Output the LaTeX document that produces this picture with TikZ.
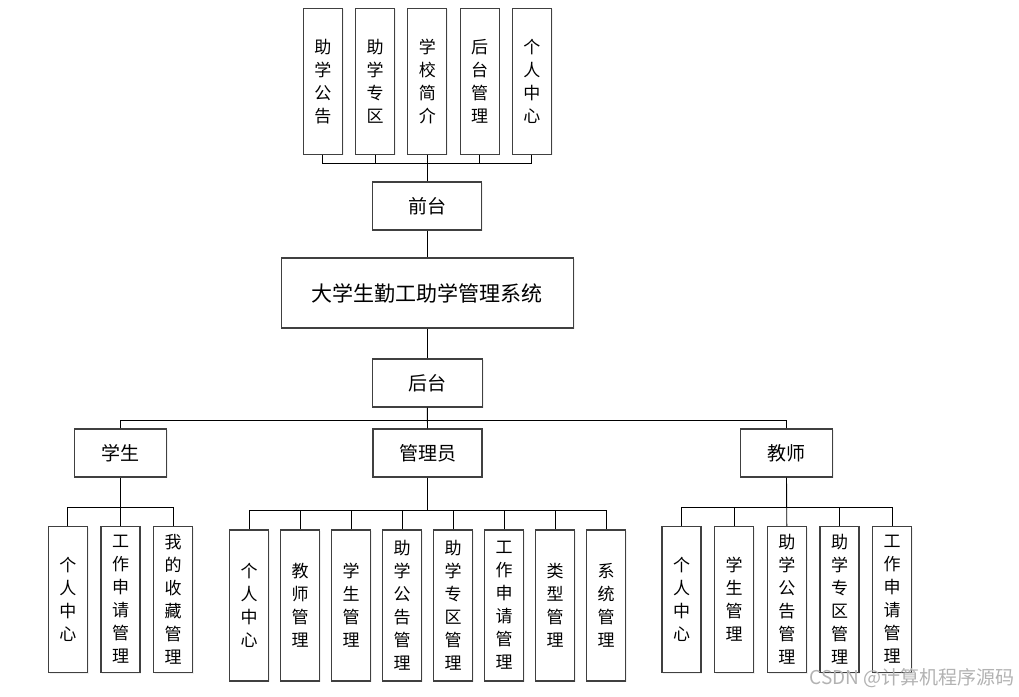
\documentclass[tikz,border=0pt]{standalone}
\usepackage{fontspec}
\setmainfont{Noto Sans CJK SC}
\usetikzlibrary{shadows}

\tikzset{
  box/.style = {draw = black!75, line width = 1.1pt, fill = white, inner sep = 0pt,
    drop shadow = {opacity = 0.12, shadow xshift = 1.2pt, shadow yshift = -1.2pt}},
  vbox/.style = {box, minimum width = 39pt, minimum height = 146pt, align = center,
    font = \fontsize{17}{23}\selectfont},
  hbox/.style = {box, minimum height = 48pt, font = \fontsize{19}{23}\selectfont},
  link/.style = {draw = black, line width = 0.9pt}
}

\begin{document}
\begin{tikzpicture} [x = 1pt, y = -1pt]
\useasboundingbox (0.0, 0.0) rectangle (1019.0, 696.0);
% front end pages
\node[vbox] (fa) at (322.8, 81.2) {助\\学\\公\\告};
\node[vbox] (fb) at (375.0, 81.2) {助\\学\\专\\区};
\node[vbox] (fc) at (427.3, 81.2) {学\\校\\简\\介};
\node[vbox] (fd) at (479.7, 81.2) {后\\台\\管\\理};
\node[vbox] (fe) at (531.8, 81.2) {个\\人\\中\\心};
\node[hbox, minimum width = 109pt] (front) at (427.3, 206.0) {前台};
% system
\node[box, minimum width = 292pt, minimum height = 70pt, font = \fontsize{21}{25}\selectfont] (sys) at (427.3, 293.0) {大学生勤工助学管理系统};
\node[hbox, minimum width = 110pt] (back) at (427.3, 383.0) {后台};
% roles
\node[hbox, minimum width = 92pt] (stu) at (120.5, 453.0) {学生};
\node[hbox, minimum width = 109pt] (adm) at (427.5, 453.0) {管理员};
\node[hbox, minimum width = 92pt] (tea) at (786.5, 453.0) {教师};
% student
\node[vbox] (sa) at (67.8, 599.5) {个\\人\\中\\心};
\node[vbox] (sb) at (120.5, 599.5) {工\\作\\申\\请\\管\\理};
\node[vbox] (sc) at (173.2, 599.5) {我\\的\\收\\藏\\管\\理};
% admin
\node[vbox, minimum height = 151pt] (aa) at (249.0, 605.5) {个\\人\\中\\心};
\node[vbox, minimum height = 151pt] (ab) at (300.0, 605.5) {教\\师\\管\\理};
\node[vbox, minimum height = 151pt] (ac) at (351.0, 605.5) {学\\生\\管\\理};
\node[vbox, minimum height = 151pt] (ad) at (402.0, 605.5) {助\\学\\公\\告\\管\\理};
\node[vbox, minimum height = 151pt] (ae) at (453.0, 605.5) {助\\学\\专\\区\\管\\理};
\node[vbox, minimum height = 151pt] (af) at (504.0, 605.5) {工\\作\\申\\请\\管\\理};
\node[vbox, minimum height = 151pt] (ag) at (555.0, 605.5) {类\\型\\管\\理};
\node[vbox, minimum height = 151pt] (ah) at (606.0, 605.5) {系\\统\\管\\理};
% teacher
\node[vbox] (ta) at (681.5, 599.5) {个\\人\\中\\心};
\node[vbox] (tb) at (734.2, 599.5) {学\\生\\管\\理};
\node[vbox] (tc) at (786.8, 599.5) {助\\学\\公\\告\\管\\理};
\node[vbox] (td) at (839.5, 599.5) {助\\学\\专\\区\\管\\理};
\node[vbox] (te) at (892.2, 599.5) {工\\作\\申\\请\\管\\理};
% buses
\coordinate (fbus) at (427.3, 163.3);
\coordinate (bbus) at (427.3, 420.0);
\coordinate (sbus) at (120.5, 507.3);
\coordinate (abus) at (427.5, 510.7);
\coordinate (tbus) at (786.5, 507.3);
% connectors
\draw[link] (fa.south) |- (fbus);
\draw[link] (fb.south) |- (fbus);
\draw[link] (fd.south) |- (fbus);
\draw[link] (fe.south) |- (fbus);
\draw[link] (fc.south) -- (front.north);
\draw[link] (front.south) -- (sys.north);
\draw[link] (sys.south) -- (back.north);
\draw[link] (stu.north) |- (bbus);
\draw[link] (tea.north) |- (bbus);
\draw[link] (back.south) -- (adm.north);
\draw[link] (sa.north) |- (sbus);
\draw[link] (sc.north) |- (sbus);
\draw[link] (stu.south) -- (sb.north);
\draw[link] (aa.north) |- (abus);
\draw[link] (ab.north) |- (abus);
\draw[link] (ac.north) |- (abus);
\draw[link] (ad.north) |- (abus);
\draw[link] (ae.north) |- (abus);
\draw[link] (af.north) |- (abus);
\draw[link] (ag.north) |- (abus);
\draw[link] (ah.north) |- (abus);
\draw[link] (adm.south) -- (abus);
\draw[link] (ta.north) |- (tbus);
\draw[link] (tb.north) |- (tbus);
\draw[link] (td.north) |- (tbus);
\draw[link] (te.north) |- (tbus);
\draw[link] (tea.south) -- (tc.north);
% watermark
\node[text = black!30, font = \fontsize{19}{21}\selectfont, anchor = east, inner sep = 0pt] (mark) at (1015.0, 678.0) {CSDN @计算机程序源码};
\end{tikzpicture}
\end{document}
